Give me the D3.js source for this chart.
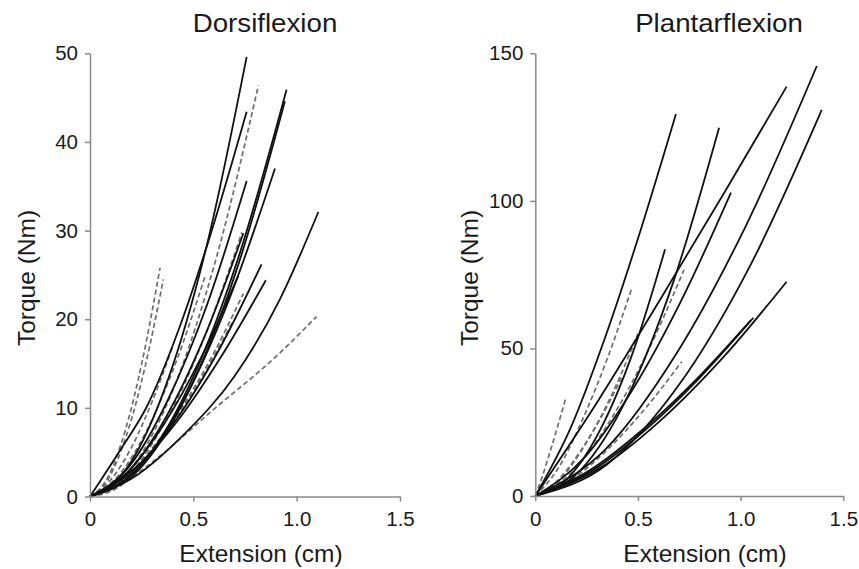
<!DOCTYPE html>
<html>
<head>
<meta charset="utf-8">
<script src="https://cdn.jsdelivr.net/npm/d3@7"></script>
<style>
  body { margin: 0; background: #fff; }
  svg text { font-family: Arial, "Liberation Sans", sans-serif; fill: #1a1a1a; }
  .axis path, .axis line { stroke: #8a8a8a; stroke-width: 1.5; }
  .axis text { font-size: 20.5px; }
  .solid { fill: none; stroke: #111; stroke-width: 1.8; }
  .dashed { fill: none; stroke: #6e6e6e; stroke-width: 1.7; stroke-dasharray: 5,3; }
</style>
</head>
<body>
<svg id="chart" width="859" height="569"></svg>
<script>
// torque vs extension curves as [extension cm, torque Nm]
var dorsiSolid = [
  [[0, 0], [0.19, 3.6], [0.379, 13.3], [0.569, 28.7], [0.758, 49.6]],
  [[0, 0], [0.145, 5.2], [0.274, 10.1], [0.435, 19.2], [0.565, 28.2], [0.758, 43.4]],
  [[0, 0], [0.238, 3.3], [0.476, 12.3], [0.713, 26.6], [0.951, 45.9]],
  [[0, 0], [0.236, 3.0], [0.472, 11.6], [0.707, 25.4], [0.943, 44.6]],
  [[0, 0], [0.224, 3.0], [0.448, 10.6], [0.671, 22.1], [0.895, 37.0]],
  [[0, 0], [0.19, 3.4], [0.379, 11.0], [0.569, 21.8], [0.758, 35.6]],
  [[0, 0], [0.208, 2.9], [0.415, 8.6], [0.623, 16.5], [0.83, 26.2]],
  [[0, 0], [0.213, 3.1], [0.426, 8.6], [0.638, 15.9], [0.851, 24.4]],
  [[0, 0], [0.2, 2.0], [0.45, 6.9], [0.7, 13.6], [0.92, 22.3], [1.105, 32.1]],
  [[0, 0], [0.186, 2.8], [0.371, 9.1], [0.557, 18.2], [0.742, 29.7]],
  [[0, 0], [0.179, 2.7], [0.359, 8.2], [0.538, 15.7], [0.717, 24.9]]
];
var dorsiDashed = [
  [[0, 0], [0.085, 2.1], [0.17, 7.4], [0.254, 15.4], [0.339, 25.8]],
  [[0, 0], [0.089, 2.0], [0.178, 7.0], [0.266, 14.6], [0.355, 24.5]],
  [[0, 0], [0.204, 3.3], [0.408, 12.4], [0.611, 26.9], [0.815, 46.4]],
  [[0, 0], [0.08, 0.4], [0.274, 3.4], [0.597, 9.8], [0.919, 16.2], [1.096, 20.3]],
  [[0, 0], [0.101, 1.9], [0.202, 5.6], [0.302, 10.8], [0.403, 17.1]],
  [[0, 0], [0.139, 2.4], [0.278, 7.6], [0.417, 15.2], [0.556, 24.8]],
  [[0, 0], [0.186, 2.5], [0.371, 7.6], [0.557, 14.4], [0.742, 22.9]],
  [[0, 0], [0.174, 2.2], [0.347, 6.6], [0.521, 12.6], [0.694, 19.9]],
  [[0, 0], [0.184, 2.4], [0.368, 8.6], [0.551, 17.8], [0.735, 29.8]]
];
var plantarSolid = [
  [[0, 0], [0.171, 22.9], [0.343, 54.3], [0.514, 90.3], [0.685, 129.4]],
  [[0, 0], [0.224, 9.0], [0.448, 33.4], [0.671, 72.3], [0.895, 124.8]],
  [[0, 0], [0.306, 32.3], [0.612, 67.0], [0.918, 102.5], [1.224, 138.7]],
  [[0, 0], [0.343, 15.9], [0.686, 48.1], [1.028, 91.9], [1.371, 145.7]],
  [[0, 0], [0.349, 10.7], [0.698, 37.5], [1.046, 78.0], [1.395, 130.8]],
  [[0, 0], [0.238, 12.9], [0.477, 36.4], [0.715, 66.8], [0.953, 102.8]],
  [[0, 0], [0.158, 6.0], [0.316, 22.4], [0.474, 48.4], [0.632, 83.6]],
  [[0, 0], [0.306, 9.1], [0.612, 25.7], [0.918, 47.2], [1.224, 72.6]],
  [[0, 0], [0.266, 8.1], [0.531, 22.1], [0.797, 39.8], [1.062, 60.4]],
  [[0, 0], [0.263, 8.6], [0.525, 22.6], [0.788, 39.8], [1.05, 59.6]]
];
var plantarDashed = [
  [[0, 0], [0.037, 7.2], [0.074, 15.5], [0.111, 24.1], [0.148, 33.1]],
  [[0, 0], [0.118, 10.1], [0.235, 26.7], [0.353, 47.0], [0.47, 70.4]],
  [[0, 0], [0.181, 8.3], [0.362, 25.3], [0.543, 48.3], [0.724, 76.6]],
  [[0, 0], [0.178, 5.7], [0.357, 16.1], [0.535, 29.6], [0.713, 45.5]],
  [[0, 0], [0.105, 5.0], [0.21, 14.2], [0.315, 26.0], [0.42, 40.0]],
  [[0, 0], [0.125, 6.0], [0.25, 18.2], [0.375, 34.7], [0.5, 55.0]]
];

var xTicks = [0, 0.5, 1.0, 1.5];
var dorsiTicks = [0, 10, 20, 30, 40, 50];
var plantarTicks = [0, 50, 100, 150];

var svg = d3.select('#chart');

// the reference text looks a bit wider than plain Arial
var stretch = 1.065;

function drawPanel(opts) {
  var x = d3.scaleLinear().domain([0, 1.5]).range([opts.left, opts.right]);
  var y = d3.scaleLinear().domain([0, opts.yMax]).range([opts.bottom, opts.top]);

  var line = d3
    .line()
    .x(function(d) { return x(d[0]); })
    .y(function(d) { return y(d[1]); })
    .curve(d3.curveMonotoneX);

  var g = svg.append('g');

  g.selectAll('path.dashed')
    .data(opts.dashed)
    .enter()
    .append('path')
    .attr('class', 'dashed')
    .attr('d', line);

  g.selectAll('path.solid')
    .data(opts.solid)
    .enter()
    .append('path')
    .attr('class', 'solid')
    .attr('d', line);

  var xAxis = d3
    .axisBottom(x)
    .tickValues(xTicks)
    .tickSize(5)
    .tickSizeOuter(0)
    .tickPadding(10)
    .tickFormat(function(d) { return d === 0 ? '0' : d.toFixed(1); });

  var yAxis = d3
    .axisLeft(y)
    .tickValues(opts.yTicks)
    .tickSize(5)
    .tickSizeOuter(0)
    .tickPadding(7)
    .tickFormat(d3.format('d'));

  g.append('g')
    .attr('class', 'axis')
    .attr('transform', 'translate(0,' + opts.bottom + ')')
    .call(xAxis);

  g.append('g')
    .attr('class', 'axis')
    .attr('transform', 'translate(' + opts.left + ',0)')
    .call(yAxis);

  g.selectAll('.axis text').attr('fill', '#1a1a1a');
  g.selectAll('.axis .domain').attr('stroke', '#8a8a8a');
  g.selectAll('.axis .tick line').attr('stroke', '#8a8a8a');

  // chart title
  g.append('text')
    .text(opts.title)
    .attr('transform', 'translate(' + opts.titleX + ',32) scale(' + stretch + ',1)')
    .attr('text-anchor', 'middle')
    .style('font-size', '26px');

  // x title
  g.append('text')
    .text('Extension (cm)')
    .attr('transform', 'translate(' + opts.xTitleX + ',562) scale(' + stretch + ',1)')
    .attr('text-anchor', 'middle')
    .style('font-size', '23px');

  // y title
  g.append('text')
    .text('Torque (Nm)')
    .attr('transform', 'translate(' + opts.yTitleX + ',278) rotate(-90) scale(' + stretch + ',1)')
    .attr('text-anchor', 'middle')
    .style('font-size', '23px');
}

drawPanel({
  left: 90, right: 400, top: 53.3, bottom: 496.5, yMax: 50,
  yTicks: dorsiTicks, solid: dorsiSolid, dashed: dorsiDashed,
  title: 'Dorsiflexion', titleX: 265, xTitleX: 261, yTitleX: 35
});

drawPanel({
  left: 535.3, right: 843.3, top: 53.3, bottom: 496, yMax: 150,
  yTicks: plantarTicks, solid: plantarSolid, dashed: plantarDashed,
  title: 'Plantarflexion', titleX: 719, xTitleX: 705, yTitleX: 478
});
</script>
</body>
</html>
